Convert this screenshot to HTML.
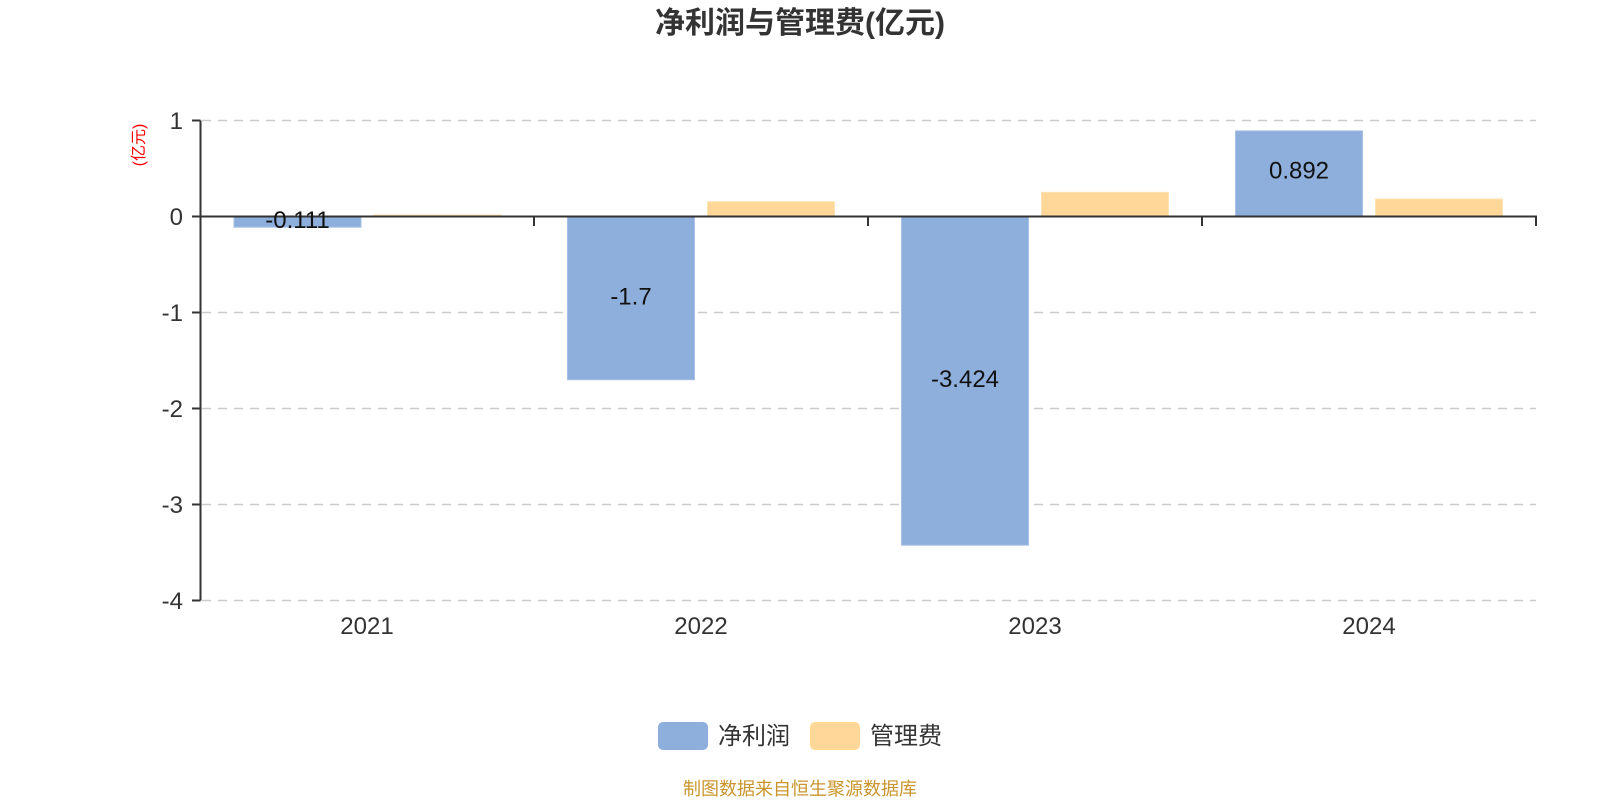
<!DOCTYPE html>
<html>
<head>
<meta charset="utf-8">
<style>
  html,body{margin:0;padding:0;background:#fff;}
  svg{display:block;}
  text{font-family:"Liberation Sans","Noto Sans CJK SC",sans-serif;}
</style>
</head>
<body>
<svg width="1600" height="800" viewBox="0 0 1600 800" xmlns="http://www.w3.org/2000/svg">
  <rect x="0" y="0" width="1600" height="800" fill="#fff"/>

  <!-- Title -->
  <text x="800" y="33" text-anchor="middle" font-size="30" font-weight="bold" fill="#333">净利润与管理费(亿元)</text>

  <!-- Y axis name -->
  <text transform="translate(144,145) rotate(-90)" text-anchor="middle" font-size="16" fill="#ff0000">(亿元)</text>

  <!-- Grid lines -->
  <g stroke="#cccccc" stroke-width="1.6" stroke-dasharray="9,7" fill="none">
    <line x1="202" y1="120.5" x2="1536" y2="120.5"/>
    <line x1="202" y1="312.5" x2="1536" y2="312.5"/>
    <line x1="202" y1="408.5" x2="1536" y2="408.5"/>
    <line x1="202" y1="504.5" x2="1536" y2="504.5"/>
    <line x1="202" y1="600.5" x2="1536" y2="600.5"/>
  </g>

  <!-- Bars: 净利润 (blue) -->
  <g fill="#8eaedb" stroke="#a6c0e6" stroke-width="1">
    <rect x="234" y="216.5" width="127" height="10.7"/>
    <rect x="567.5" y="216.5" width="127" height="163.2"/>
    <rect x="901.5" y="216.5" width="127" height="328.7"/>
    <rect x="1235.5" y="130.9" width="127" height="85.6"/>
  </g>
  <!-- Bars: 管理费 (orange) -->
  <g fill="#ffd899" stroke="#ffe2b2" stroke-width="1">
    <rect x="374" y="215" width="127" height="1.5"/>
    <rect x="707.5" y="201.7" width="127" height="14.8"/>
    <rect x="1041.5" y="192.3" width="127" height="24.2"/>
    <rect x="1375.5" y="199" width="127" height="17.5"/>
  </g>

  <!-- Axes -->
  <g stroke="#333" stroke-width="2" fill="none">
    <line x1="200.5" y1="120.5" x2="200.5" y2="600.5"/>
    <line x1="200" y1="216.5" x2="1537" y2="216.5"/>
    <!-- y ticks -->
    <line x1="192" y1="120.5" x2="200.5" y2="120.5"/>
    <line x1="192" y1="216.5" x2="200.5" y2="216.5"/>
    <line x1="192" y1="312.5" x2="200.5" y2="312.5"/>
    <line x1="192" y1="408.5" x2="200.5" y2="408.5"/>
    <line x1="192" y1="504.5" x2="200.5" y2="504.5"/>
    <line x1="192" y1="600.5" x2="200.5" y2="600.5"/>
    <!-- x ticks -->
    <line x1="200.5" y1="216.5" x2="200.5" y2="226"/>
    <line x1="534" y1="216.5" x2="534" y2="226"/>
    <line x1="868" y1="216.5" x2="868" y2="226"/>
    <line x1="1202" y1="216.5" x2="1202" y2="226"/>
    <line x1="1536" y1="216.5" x2="1536" y2="226"/>
  </g>

  <!-- Y labels -->
  <g font-size="24" fill="#333" text-anchor="end">
    <text x="183" y="129">1</text>
    <text x="183" y="225">0</text>
    <text x="183" y="321">-1</text>
    <text x="183" y="417">-2</text>
    <text x="183" y="513">-3</text>
    <text x="183" y="609">-4</text>
  </g>

  <!-- X labels -->
  <g font-size="24" fill="#333" text-anchor="middle">
    <text x="367" y="634">2021</text>
    <text x="701" y="634">2022</text>
    <text x="1035" y="634">2023</text>
    <text x="1369" y="634">2024</text>
  </g>

  <!-- Data labels -->
  <g font-size="24" fill="#111" text-anchor="middle">
    <text x="297.5" y="228">-0.111</text>
    <text x="631" y="304.5">-1.7</text>
    <text x="965" y="387">-3.424</text>
    <text x="1299" y="178.5">0.892</text>
  </g>

  <!-- Legend -->
  <rect x="658" y="722" width="50" height="28" rx="5" ry="5" fill="#8eaedb"/>
  <text x="718" y="744" font-size="24" fill="#333">净利润</text>
  <rect x="810" y="722" width="50" height="28" rx="5" ry="5" fill="#ffd899"/>
  <text x="870" y="744" font-size="24" fill="#333">管理费</text>

  <!-- Source -->
  <text x="800" y="795" text-anchor="middle" font-size="18" fill="#c9952c">制图数据来自恒生聚源数据库</text>
</svg>
</body>
</html>
